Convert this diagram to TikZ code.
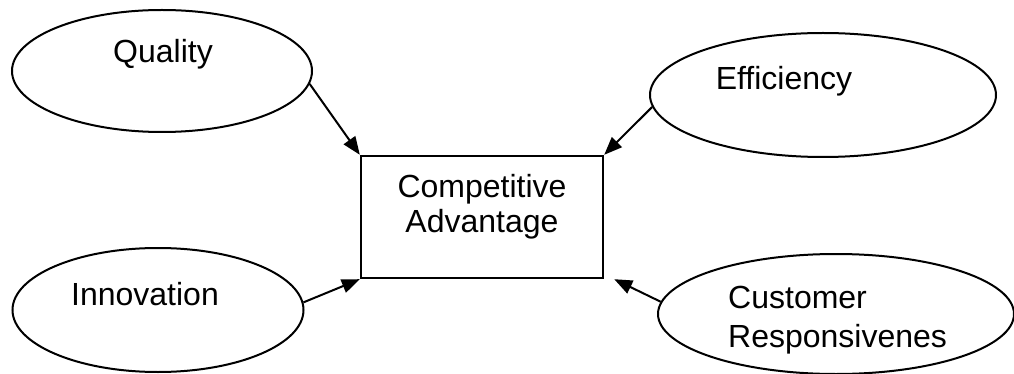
\documentclass[tikz,border=0pt]{standalone}
\usepackage{fontspec}
\setmainfont{Liberation Sans}
\usetikzlibrary{shapes.geometric,arrows.meta}
\tikzset{
  factor/.style={ellipse, draw, line width=2pt, inner sep=0pt},
  core/.style={rectangle, draw, line width=2.4pt, inner sep=0pt},
  lbl/.style={inner sep=0pt, font=\fontsize{32}{36}\selectfont},
  arr/.style={line width=2pt, -{Triangle[length=18pt,width=14pt]}}
}
\begin{document}
\begin{tikzpicture}[x=1pt,y=-1pt]
\useasboundingbox (0,0) rectangle (1014,374);
\begin{scope}
\clip (0,0) rectangle (1014,374);
% outer factors
\node[factor, minimum width=300pt, minimum height=122pt] (q) at (162,71) {};
\node[factor, minimum width=346pt, minimum height=124pt] (e) at (823,95) {};
\node[factor, minimum width=291pt, minimum height=124pt] (i) at (158,310) {};
\node[factor, minimum width=356pt, minimum height=120pt] (r) at (836,314) {};
% central box
\node[core, minimum width=242pt, minimum height=122pt] (c) at (482,217) {};
\end{scope}
% labels
\node[lbl, anchor=base] (tq) at (163,63) {Quality};
\node[lbl, anchor=base] (te) at (784,90) {Efficiency};
\node[lbl, anchor=base] (ti) at (145,305) {Innovation};
\node[lbl, anchor=base west] (tr1) at (728,308) {Customer};
\node[lbl, anchor=base west] (tr2) at (728,347) {Responsivenes};
\node[lbl, anchor=base] (tc1) at (482,197) {Competitive};
\node[lbl, anchor=base] (tc2) at (482,233) {Advantage};
% influences
\coordinate (cse) at ([xshift=10pt]c.south east);
\draw[arr] (q.-5) -- (c.north west);
\draw[arr] (e.184.5) -- (c.north east);
\draw[arr] (i.3) -- (c.south west);
\draw[arr] (r.176.4) -- (cse);
\end{tikzpicture}
\end{document}
